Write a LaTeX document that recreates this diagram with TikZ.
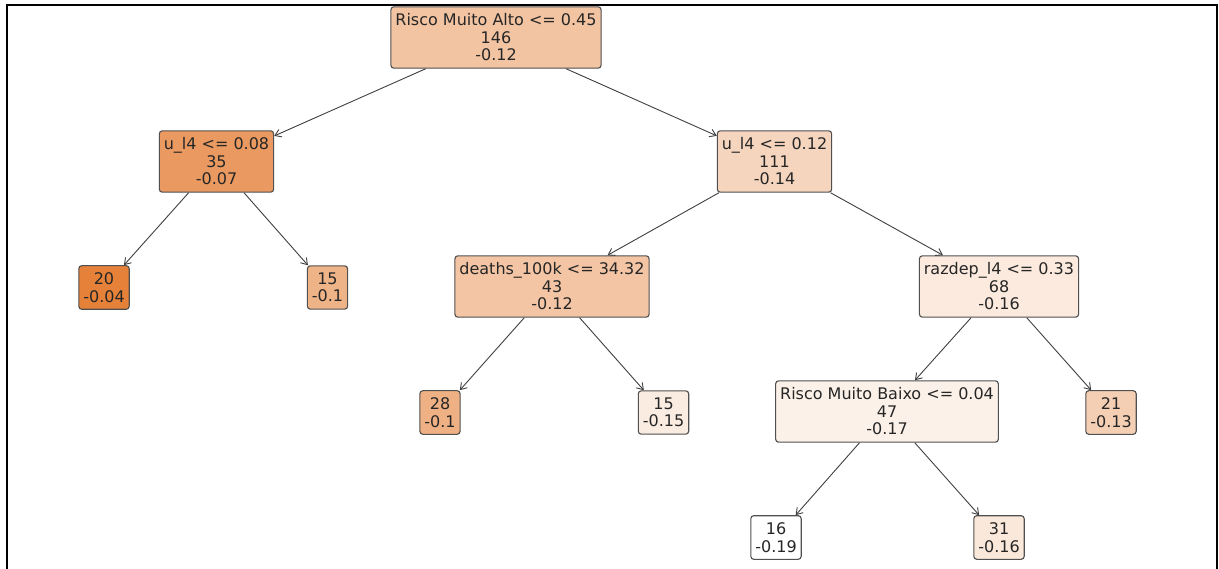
\documentclass[tikz,border=0pt]{standalone}
\usepackage{fontspec}
\setmainfont{DejaVu Sans}
\usetikzlibrary{arrows.meta}
\definecolor{sko}{RGB}{229,129,57}
\definecolor{edgegray}{RGB}{64,64,64}
\definecolor{boxline}{RGB}{80,80,80}
\tikzset{
  tn/.style={draw=boxline, line width=1.1pt, rounded corners=3pt, align=center,
    inner xsep=4.5pt, inner ysep=7pt, font=\fontsize{16}{17.5}\selectfont, text=black!85},
  conn/.style={draw=edgegray, line width=0.9pt, -{Straight Barb[length=6pt,width=8pt]}},
}
\begin{document}
\begin{tikzpicture}[x=1pt,y=-1pt]
\useasboundingbox (0,0) rectangle (1219,569);
\fill[white] (0,0) rectangle (1219,569);
\draw[line width=2pt] (6.5,569) -- (6.5,5.5) -- (1217,5.5) -- (1217,569);

\node[tn, fill=sko!47!white] (root) at (496,37.5) {Risco Muito Alto <= 0.45\\146\\-0.12};
\node[tn, fill=sko!80!white] (a) at (216.5,161.5) {u\_l4 <= 0.08\\35\\-0.07};
\node[tn, fill=sko] (a1) at (104,287.5) {20\\-0.04};
\node[tn, fill=sko!60!white] (a2) at (327.5,287.5) {15\\-0.1};
\node[tn, fill=sko!33!white] (b) at (774.5,161.5) {u\_l4 <= 0.12\\111\\-0.14};
\node[tn, fill=sko!46!white] (b1) at (552,286.5) {deaths\_100k <= 34.32\\43\\-0.12};
\node[tn, fill=sko!17!white] (b2) at (999,286.5) {razdep\_l4 <= 0.33\\68\\-0.16};
\node[tn, fill=sko!62!white] (b11) at (440,412.5) {28\\-0.1};
\node[tn, fill=sko!15!white] (b12) at (663.5,412.5) {15\\-0.15};
\node[tn, fill=sko!11!white] (b21) at (887,411.5) {Risco Muito Baixo <= 0.04\\47\\-0.17};
\node[tn, fill=sko!38!white] (b22) at (1111,412.5) {21\\-0.13};
\node[tn, fill=white] (b211) at (776,537.5) {16\\-0.19};
\node[tn, fill=sko!18!white] (b212) at (999,537.5) {31\\-0.16};

\draw[conn] (root) -- (a);
\draw[conn] (root) -- (b);
\draw[conn] (a) -- (a1);
\draw[conn] (a) -- (a2);
\draw[conn] (b) -- (b1);
\draw[conn] (b) -- (b2);
\draw[conn] (b1) -- (b11);
\draw[conn] (b1) -- (b12);
\draw[conn] (b2) -- (b21);
\draw[conn] (b2) -- (b22);
\draw[conn] (b21) -- (b211);
\draw[conn] (b21) -- (b212);
\end{tikzpicture}
\end{document}
